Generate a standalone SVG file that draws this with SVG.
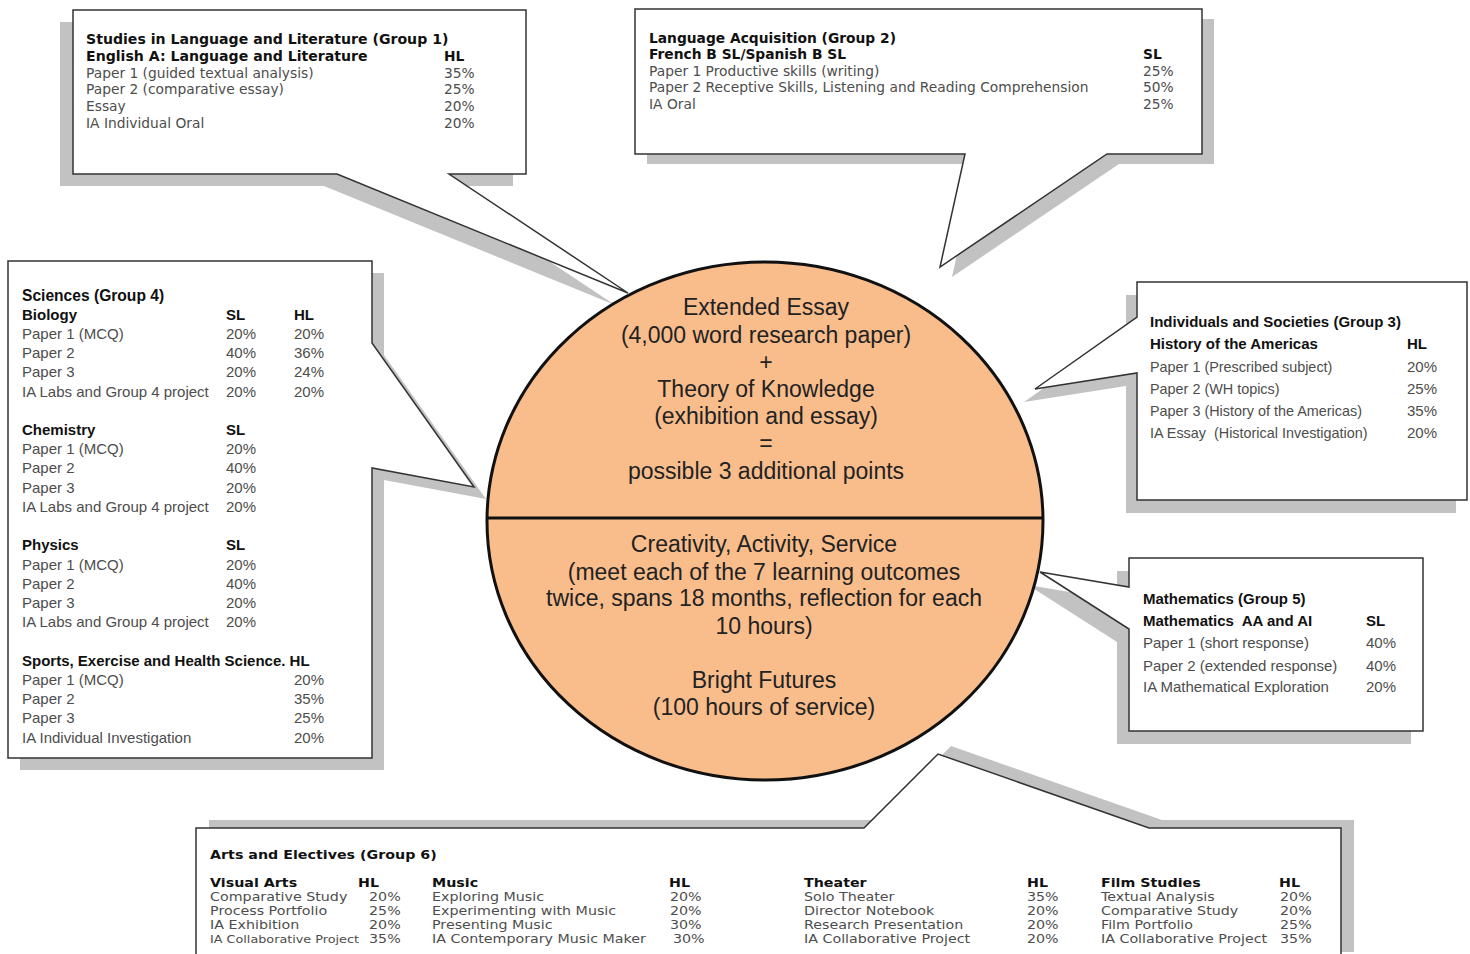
<svg xmlns="http://www.w3.org/2000/svg" width="1470" height="954" viewBox="0 0 1470 954">
<style>
.box{fill:#fff;stroke:#333;stroke-width:1.5;stroke-linejoin:miter}
.sh{fill:#c2c2c2}
.v{font-family:"DejaVu Sans",Verdana,sans-serif;font-size:13.8px;fill:#4d4d4d}
.t{font-family:"Liberation Sans",Arial,sans-serif;font-size:15px;fill:#4d4d4d}
.s{font-family:"DejaVu Sans",Verdana,sans-serif;font-size:11.5px;fill:#4d4d4d}
.b{font-weight:bold;fill:#111}
.c{font-family:"Liberation Sans",Arial,sans-serif;font-size:23px;fill:#222;text-anchor:middle}
</style>
<rect width="1470" height="954" fill="#fff"/>

<g id="group1">
<path class="sh" transform="translate(-13,12)" d="M73,10 H526 V174 H449 L628,293 L337,174 H73 Z"/>
<path class="box" d="M73,10 H526 V174 H449 L628,293 L337,174 H73 Z"/>
<g class="v">
<text class="b" x="86" y="44" style="font-size:14.1px">Studies in Language and Literature (Group 1)</text>
<text class="b" x="86" y="61" style="font-size:14.1px">English A: Language and Literature</text><text class="b" x="444" y="61">HL</text>
<text x="86" y="78">Paper 1 (guided textual analysis)</text><text x="444" y="78">35%</text>
<text x="86" y="94">Paper 2 (comparative essay)</text><text x="444" y="94">25%</text>
<text x="86" y="111">Essay</text><text x="444" y="111">20%</text>
<text x="86" y="128">IA Individual Oral</text><text x="444" y="128">20%</text>
</g>
</g>

<g id="group2">
<path class="sh" transform="translate(12,10)" d="M635,9 H1202 V154 H1107 L940,267 L965,154 H635 Z"/>
<path class="box" d="M635,9 H1202 V154 H1107 L940,267 L965,154 H635 Z"/>
<g class="v">
<text class="b" x="649" y="43">Language Acquisition (Group 2)</text>
<text class="b" x="649" y="59">French B SL/Spanish B SL</text><text class="b" x="1143" y="59">SL</text>
<text x="649" y="76">Paper 1 Productive skills (writing)</text><text x="1143" y="76">25%</text>
<text x="649" y="92">Paper 2 Receptive Skills, Listening and Reading Comprehension</text><text x="1143" y="92">50%</text>
<text x="649" y="109">IA Oral</text><text x="1143" y="109">25%</text>
</g>
</g>

<g id="group4">
<path class="sh" transform="translate(12,12)" d="M8,261 H372 V343 L474,487 L372,468 V758 H8 Z"/>
<path class="box" d="M8,261 H372 V343 L474,487 L372,468 V758 H8 Z"/>
<g class="t">
<text class="b" x="22" y="301" style="font-size:15.6px">Sciences (Group 4)</text>
<text class="b" x="22" y="320">Biology</text><text class="b" x="226" y="320">SL</text><text class="b" x="294" y="320">HL</text>
<text x="22" y="339">Paper 1 (MCQ)</text><text x="226" y="339">20%</text><text x="294" y="339">20%</text>
<text x="22" y="358">Paper 2</text><text x="226" y="358">40%</text><text x="294" y="358">36%</text>
<text x="22" y="377">Paper 3</text><text x="226" y="377">20%</text><text x="294" y="377">24%</text>
<text x="22" y="397">IA Labs and Group 4 project</text><text x="226" y="397">20%</text><text x="294" y="397">20%</text>
<text class="b" x="22" y="435">Chemistry</text><text class="b" x="226" y="435">SL</text>
<text x="22" y="454">Paper 1 (MCQ)</text><text x="226" y="454">20%</text>
<text x="22" y="473">Paper 2</text><text x="226" y="473">40%</text>
<text x="22" y="493">Paper 3</text><text x="226" y="493">20%</text>
<text x="22" y="512">IA Labs and Group 4 project</text><text x="226" y="512">20%</text>
<text class="b" x="22" y="550">Physics</text><text class="b" x="226" y="550">SL</text>
<text x="22" y="570">Paper 1 (MCQ)</text><text x="226" y="570">20%</text>
<text x="22" y="589">Paper 2</text><text x="226" y="589">40%</text>
<text x="22" y="608">Paper 3</text><text x="226" y="608">20%</text>
<text x="22" y="627">IA Labs and Group 4 project</text><text x="226" y="627">20%</text>
<text class="b" x="22" y="666">Sports, Exercise and Health Science. HL</text>
<text x="22" y="685">Paper 1 (MCQ)</text><text x="294" y="685">20%</text>
<text x="22" y="704">Paper 2</text><text x="294" y="704">35%</text>
<text x="22" y="723">Paper 3</text><text x="294" y="723">25%</text>
<text x="22" y="743">IA Individual Investigation</text><text x="294" y="743">20%</text>
</g>
</g>

<g id="group3">
<path class="sh" transform="translate(-11,13)" d="M1137,282 H1467 V500 H1137 V373 L1035,389 L1137,317 Z"/>
<path class="box" d="M1137,282 H1467 V500 H1137 V373 L1035,389 L1137,317 Z"/>
<g class="t">
<text class="b" x="1150" y="327">Individuals and Societies (Group 3)</text>
<text class="b" x="1150" y="349">History of the Americas</text><text class="b" x="1407" y="349">HL</text>
<text x="1150" y="372" style="font-size:14.4px">Paper 1 (Prescribed subject)</text><text x="1407" y="372">20%</text>
<text x="1150" y="394" style="font-size:14.4px">Paper 2 (WH topics)</text><text x="1407" y="394">25%</text>
<text x="1150" y="416" style="font-size:14.4px">Paper 3 (History of the Americas)</text><text x="1407" y="416">35%</text>
<text x="1150" y="438" style="font-size:14.4px" xml:space="preserve">IA Essay  (Historical Investigation)</text><text x="1407" y="438">20%</text>
</g>
</g>

<g id="group5">
<path class="sh" transform="translate(-12,13)" d="M1129,558 H1423 V731 H1129 V629 L1040,572 L1129,587 Z"/>
<path class="box" d="M1129,558 H1423 V731 H1129 V629 L1040,572 L1129,587 Z"/>
<g class="t">
<text class="b" x="1143" y="604">Mathematics (Group 5)</text>
<text class="b" x="1143" y="626" xml:space="preserve">Mathematics  AA and AI</text><text class="b" x="1366" y="626">SL</text>
<text x="1143" y="648">Paper 1 (short response)</text><text x="1366" y="648">40%</text>
<text x="1143" y="671">Paper 2 (extended response)</text><text x="1366" y="671">40%</text>
<text x="1143" y="692">IA Mathematical Exploration</text><text x="1366" y="692">20%</text>
</g>
</g>

<g id="group6">
<path class="sh" transform="translate(13,-8)" d="M196,828 H864 L938,754 L1149,828 H1341 V960 H196 Z"/>
<path class="box" d="M196,828 H864 L938,754 L1149,828 H1341 V960 H196 Z"/>
<g class="s" transform="scale(1.24,1)">
<text class="b" x="169.4" y="859">Arts and Electives (Group 6)</text>
<text class="b" x="169.4" y="887">Visual Arts</text><text class="b" x="288.7" y="887">HL</text>
<text x="169.4" y="901">Comparative Study</text><text x="297.6" y="901">20%</text>
<text x="169.4" y="915">Process Portfolio</text><text x="297.6" y="915">25%</text>
<text x="169.4" y="929">IA Exhibition</text><text x="297.6" y="929">20%</text>
<text x="169.4" y="943" style="font-size:10.3px">IA Collaborative Project</text><text x="297.6" y="943">35%</text>
<text class="b" x="348.4" y="887">Music</text><text class="b" x="539.5" y="887">HL</text>
<text x="348.4" y="901">Exploring Music</text><text x="540.3" y="901">20%</text>
<text x="348.4" y="915">Experimenting with Music</text><text x="540.3" y="915">20%</text>
<text x="348.4" y="929">Presenting Music</text><text x="540.3" y="929">30%</text>
<text x="348.4" y="943">IA Contemporary Music Maker</text><text x="542.7" y="943">30%</text>
<text class="b" x="648.4" y="887">Theater</text><text class="b" x="828.2" y="887">HL</text>
<text x="648.4" y="901">Solo Theater</text><text x="828.2" y="901">35%</text>
<text x="648.4" y="915">Director Notebook</text><text x="828.2" y="915">20%</text>
<text x="648.4" y="929">Research Presentation</text><text x="828.2" y="929">20%</text>
<text x="648.4" y="943">IA Collaborative Project</text><text x="828.2" y="943">20%</text>
<text class="b" x="887.9" y="887">Film Studies</text><text class="b" x="1031.5" y="887">HL</text>
<text x="887.9" y="901">Textual Analysis</text><text x="1032.3" y="901">20%</text>
<text x="887.9" y="915">Comparative Study</text><text x="1032.3" y="915">20%</text>
<text x="887.9" y="929">Film Portfolio</text><text x="1032.3" y="929">25%</text>
<text x="887.9" y="943">IA Collaborative Project</text><text x="1032.3" y="943">35%</text>
</g>
</g>

<g id="core">
<ellipse cx="765" cy="521" rx="278" ry="259" fill="#f9bd8c" stroke="#111" stroke-width="3"/>
<line x1="487" y1="518" x2="1043" y2="518" stroke="#111" stroke-width="3"/>
<g class="c">
<text x="766" y="315">Extended Essay</text>
<text x="766" y="343">(4,000 word research paper)</text>
<text x="766" y="370">+</text>
<text x="766" y="397">Theory of Knowledge</text>
<text x="766" y="424">(exhibition and essay)</text>
<text x="766" y="451">=</text>
<text x="766" y="479">possible 3 additional points</text>
<text x="764" y="552">Creativity, Activity, Service</text>
<text x="764" y="580">(meet each of the 7 learning outcomes</text>
<text x="764" y="606">twice, spans 18 months, reflection for each</text>
<text x="764" y="634">10 hours)</text>
<text x="764" y="688">Bright Futures</text>
<text x="764" y="715">(100 hours of service)</text>
</g>
</g>
</svg>
